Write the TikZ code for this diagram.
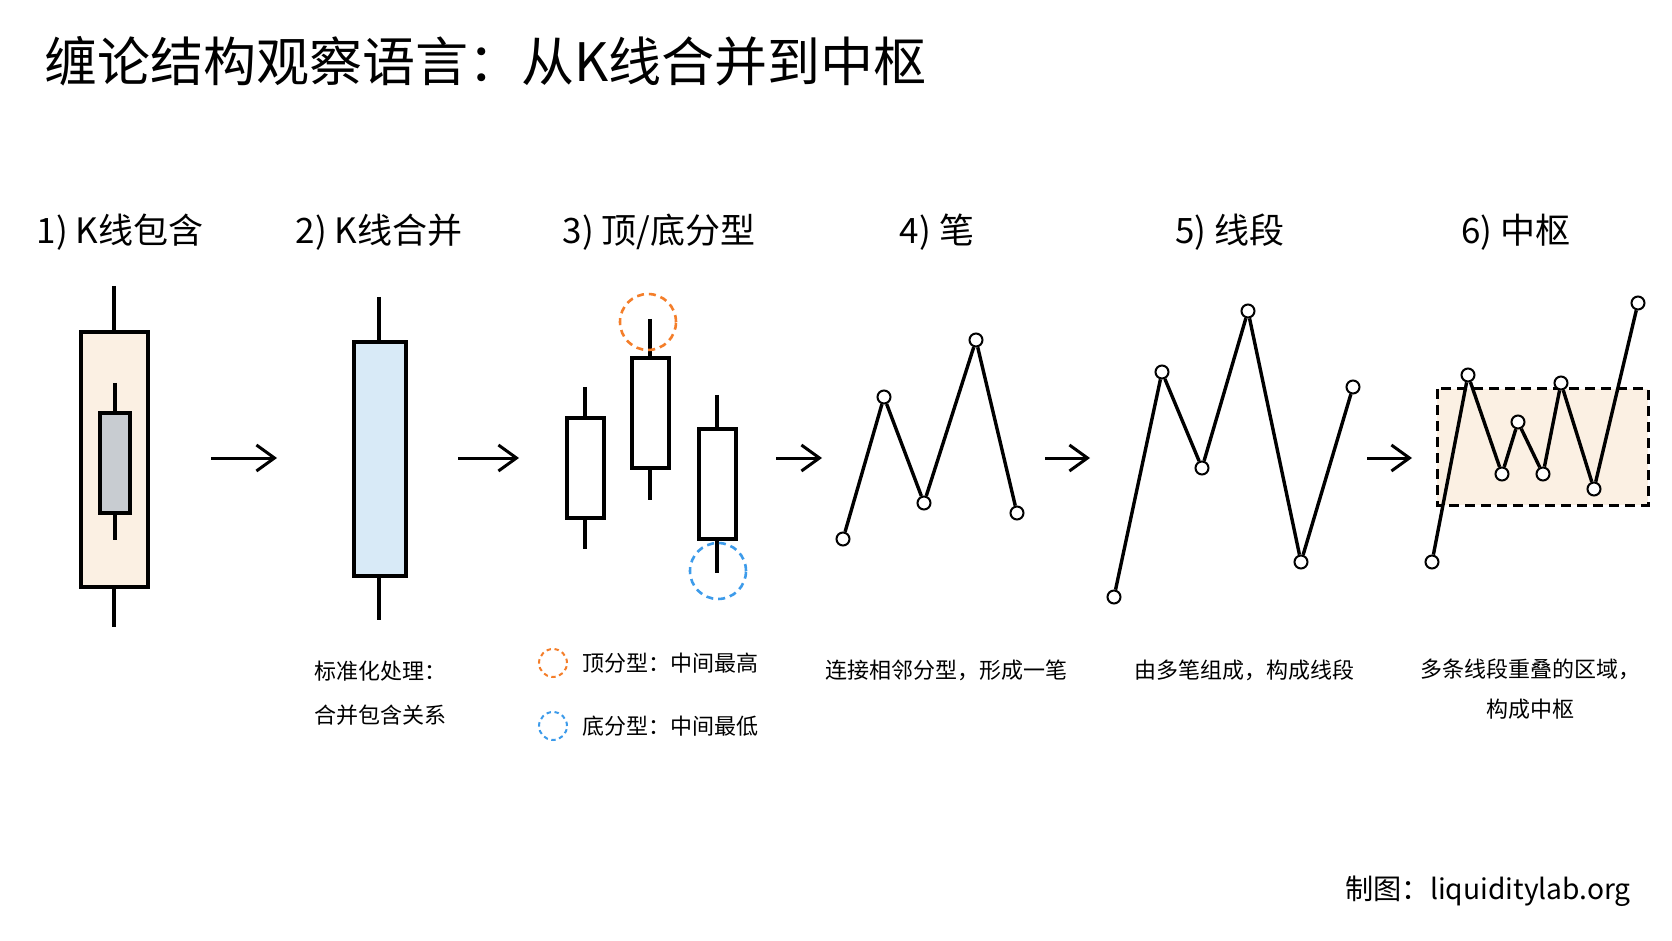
\documentclass[tikz,border=0pt]{standalone}
\usepackage{fontspec}
\setmainfont{Noto Sans CJK SC}
\usepackage{xcolor}
\usetikzlibrary{positioning,arrows.meta}
\definecolor{hubfill}{HTML}{FBF0E3}
\definecolor{mergefill}{HTML}{D8EAF7}
\definecolor{innerfill}{HTML}{C8CCD1}
\definecolor{toporange}{HTML}{F47E2A}
\definecolor{botblue}{HTML}{3D9BEA}

\begin{document}
\begin{tikzpicture}[x=0.5pt,y=-0.5pt,
  stage/.style={font=\fontsize{17.5}{20}\selectfont,inner sep=0pt},
  note/.style={font=\fontsize{11}{22}\selectfont,align=center,inner sep=0pt},
  body/.style={draw,line width=2pt},
  wick/.style={line width=1.6pt},
  flow/.style={-{Straight Barb[length=9pt,width=13pt]},line width=1.5pt},
  vtx/.style={circle,draw,fill=white,line width=1pt,inner sep=0pt,minimum size=6.5pt},
  seg/.style={line width=1.7pt},
  ring/.style={circle,draw,line width=1.3pt,dash pattern=on 3.5pt off 2.5pt,
               inner sep=0pt,minimum size=28pt}]
  \fill[white] (0,0) rectangle (1672,941);
  \useasboundingbox (0,0) rectangle (1672,941);

  % title
  \node[anchor=west,inner sep=0pt,font=\fontsize{26.5}{30}\selectfont] (title) at (44,61)
    {缠论结构观察语言：从K线合并到中枢};

  % stage labels
  \node[stage] (l1) at (120,232) {1) K线包含};
  \node[stage] (l2) at (379,232) {2) K线合并};
  \node[stage] (l3) at (659,232) {3) 顶/底分型};
  \node[stage] (l4) at (937,232) {4) 笔};
  \node[stage] (l5) at (1230,232) {5) 线段};
  \node[stage] (l6) at (1516,232) {6) 中枢};

  % 1) inclusion
  \draw[wick] (114,286) -- (114,627);
  \draw[body,fill=hubfill] (81,332) rectangle (148,587);
  \draw[wick] (115,383) -- (115,540);
  \draw[body,fill=innerfill] (100,413) rectangle (130,513);

  % 2) merged
  \draw[wick] (379,297) -- (379,620);
  \draw[body,fill=mergefill] (354,342) rectangle (406,576);

  % 3) fractal
  \foreach \x/\wt/\bt/\bb/\wb in {585/387/418/518/549,650/319/358/468/500,717/395/429/539/573}{
    \draw[wick] (\x,\wt) -- (\x,\wb);
    \draw[body,fill=white] (\x-18.5,\bt) rectangle (\x+18.5,\bb);
  }
  \node[ring,draw=toporange] (top) at (648,322) {};
  \node[ring,draw=botblue] (bot) at (718,571) {};

  % flow arrows
  \foreach \i/\xs/\xe in {1/211/277,2/458/519,3/776/822,4/1045/1090,5/1367/1412}{
    \coordinate (s\i) at (\xs,458);
    \coordinate (e\i) at (\xe,458);
    \draw[flow] (s\i) -- (e\i);
  }

  % 4) stroke
  \foreach \p [count=\i] in {(843,539),(884,397),(924,503),(976,340),(1017,513)}
    \node[vtx] (b\i) at \p {};
  \draw[seg] (b1)--(b2); \draw[seg] (b2)--(b3); \draw[seg] (b3)--(b4);
  \draw[seg] (b4)--(b5);

  % 5) segment
  \foreach \p [count=\i] in {(1114,597),(1162,372),(1202,468),(1248,311),(1301,562),(1353,387)}
    \node[vtx] (g\i) at \p {};
  \foreach \i [evaluate=\i as \j using int(\i+1)] in {1,...,5}
    \draw[seg] (g\i) -- (g\j);

  % 6) hub
  \draw[fill=hubfill,line width=1.5pt,dash pattern=on 5pt off 3pt] (1437,389) rectangle (1648,505);
  \foreach \p [count=\i] in {(1432,562),(1468,375),(1502,474),(1518,422),(1543,474),(1561,383),(1594,489),(1638,303)}
    \node[vtx] (z\i) at \p {};
  \foreach \i [evaluate=\i as \j using int(\i+1)] in {1,...,7}
    \draw[seg] (z\i) -- (z\j);

  % captions
  \node[note,align=left] (n2) at (380,693) {标准化处理：\\合并包含关系};
  \node[ring,minimum size=14pt,line width=1pt,dash pattern=on 2.2pt off 1.8pt,draw=toporange] (kt) at (553,663) {};
  \node[ring,minimum size=14pt,line width=1pt,dash pattern=on 2.2pt off 1.8pt,draw=botblue] (kb) at (553,726) {};
  \node[note,anchor=west] (n3a) at (582,663) {顶分型：中间最高};
  \node[note,anchor=west] (n3b) at (582,726) {底分型：中间最低};
  \node[note] (n4) at (946,670) {连接相邻分型，形成一笔};
  \node[note] (n5) at (1244,670) {由多笔组成，构成线段};
  \node[note,font=\fontsize{11}{20}\selectfont] (n6) at (1530,689) {多条线段重叠的区域，\\构成中枢};

  % footer
  \node[anchor=west,inner sep=0pt,font=\fontsize{14.1}{17}\selectfont] (credit) at (1345,891)
    {制图：liquiditylab.org};
\end{tikzpicture}
\end{document}
